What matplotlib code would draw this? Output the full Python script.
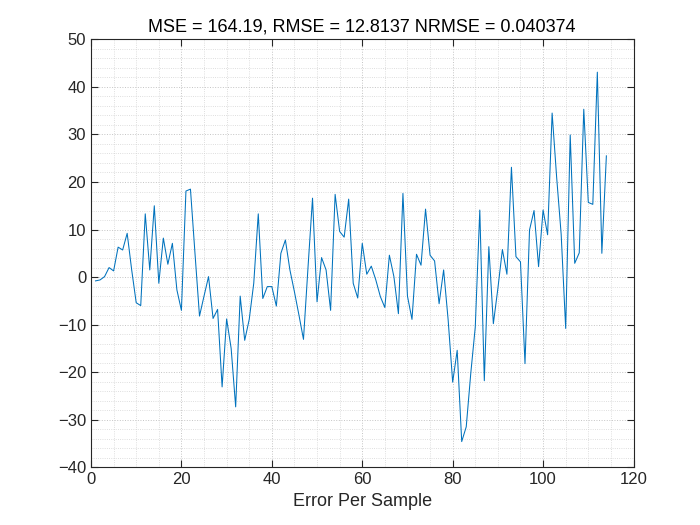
import matplotlib.pyplot as plt
from matplotlib.ticker import MultipleLocator

# error per sample
err = [-0.8, -0.6, 0.1, 2.0, 1.3, 6.3, 5.7, 9.2, 1.5, -5.4,
       -6.0, 13.3, 1.5, 15.0, -1.3, 8.2, 2.7, 7.1, -2.7, -7.0,
       18.1, 18.5, 5.0, -8.2, -4.0, 0.1, -8.7, -6.8, -23.1, -8.8,
       -15.0, -27.3, -4.0, -13.3, -8.9, -1.3, 13.3, -4.5, -2.0, -2.0,
       -6.1, 5.0, 7.8, 1.5, -3.1, -8.0, -13.1, 2.0, 16.6, -5.2,
       4.1, 1.5, -7.0, 17.4, 9.6, 8.4, 16.4, -1.3, -4.4, 7.1,
       0.6, 2.3, -0.6, -4.1, -6.4, 4.6, 0.1, -7.7, 17.6, -4.0,
       -8.9, 4.8, 2.5, 14.3, 4.6, 3.4, -5.6, 1.5, -9.0, -22.1,
       -15.4, -34.6, -31.5, -20.3, -10.5, 14.1, -21.8, 6.4, -9.8, -2.4,
       5.8, 0.6, 23.1, 4.3, 3.2, -18.2, 9.9, 14.0, 2.2, 14.1,
       8.9, 34.5, 21.0, 9.0, -10.8, 29.9, 2.9, 5.1, 35.3, 15.7,
       15.3, 43.1, 5.0, 25.5]
samples = list(range(1, len(err) + 1))

title_txt = 'MSE = 164.19, RMSE = 12.8137 NRMSE = 0.040374'
xlabel_txt = 'Error Per Sample'

plt.rcParams['font.family'] = ['Liberation Sans', 'DejaVu Sans']
dark = '#262626'

fig = plt.figure(figsize=(7, 5.25), dpi=100)
ax = fig.add_axes([0.13, 0.11, 0.775, 0.815])
ax.plot(samples, err, color='#0072BD', lw=0.75)

ax.set_xlim(0, 120)
ax.set_ylim(-40, 50)
ax.xaxis.set_major_locator(MultipleLocator(20))
ax.xaxis.set_minor_locator(MultipleLocator(5))
ax.yaxis.set_major_locator(MultipleLocator(10))
ax.yaxis.set_minor_locator(MultipleLocator(2))

# matlab style faint dotted grid
ax.grid(which='major', linestyle=':', color='#c4c4c4', lw=0.7)
ax.grid(which='minor', linestyle=':', color='#d4d4d4', lw=0.6)
ax.tick_params(which='both', direction='in', top=True, right=True,
               colors=dark, labelsize=12)
ax.tick_params(which='major', length=5)
ax.tick_params(which='minor', length=0)
for s in ax.spines.values():
    s.set_color(dark)
    s.set_linewidth(0.8)

ax.set_title(title_txt, fontsize=13, color='black', pad=6)
ax.set_xlabel(xlabel_txt, fontsize=13, color=dark)

fig.savefig('out.png', dpi=100)
